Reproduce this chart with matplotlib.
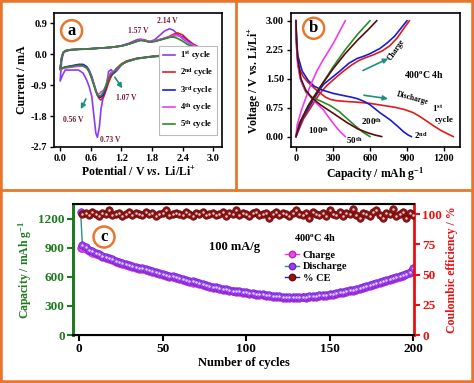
import matplotlib
matplotlib.use("Agg")
import matplotlib.pyplot as plt
from matplotlib.lines import Line2D

plt.rcParams['font.family'] = ['Liberation Serif', 'DejaVu Serif']
plt.rcParams['font.weight'] = 'bold'
plt.rcParams['axes.labelweight'] = 'bold'
plt.rcParams['mathtext.fontset'] = 'custom'
plt.rcParams['mathtext.rm'] = 'Liberation Serif:bold'
plt.rcParams['mathtext.it'] = 'Liberation Serif:italic:bold'
plt.rcParams['mathtext.bf'] = 'Liberation Serif:bold'

# ---------------- panel a: cyclic voltammetry ----------------
v_down = [3.0, 2.7, 2.4, 2.1, 1.8, 1.5, 1.3, 1.2, 1.1, 1.05, 1.0, 0.95, 0.9, 0.85,
          0.8, 0.77, 0.73, 0.7, 0.67, 0.62, 0.57, 0.52, 0.45, 0.36, 0.25, 0.1, 0.05, 0.0]
v_up = [0.0, 0.03, 0.06, 0.1, 0.2, 0.4, 0.6, 0.8, 1.0, 1.2, 1.35, 1.5, 1.57, 1.65,
        1.75, 1.85, 1.95, 2.05, 2.14, 2.22, 2.3, 2.4, 2.5, 2.6, 2.7, 2.8, 2.9, 3.0]

i1_down = [0.05, 0.0, -0.03, -0.05, -0.07, -0.12, -0.2, -0.32, -0.5, -0.55, -0.45, -0.5, -0.95, -1.2,
           -1.6, -2.1, -2.42, -2.3, -1.9, -1.23, -0.95, -0.75, -0.55, -0.46, -0.46, -0.46, -0.6, -0.78]
i2_down = [0.18, 0.1, 0.03, -0.02, -0.06, -0.12, -0.2, -0.28, -0.42, -0.52, -0.65, -0.82, -1.05, -1.25,
           -1.33, -1.3, -1.2, -1.08, -0.92, -0.7, -0.5, -0.38, -0.3, -0.3, -0.34, -0.38, -0.4, -0.45]
i3_down = [0.15, 0.08, 0.02, -0.03, -0.07, -0.13, -0.22, -0.3, -0.45, -0.55, -0.6, -0.7, -0.95, -1.18,
           -1.25, -1.25, -1.18, -1.05, -0.9, -0.65, -0.47, -0.36, -0.3, -0.3, -0.33, -0.37, -0.4, -0.43]
i4_down = [0.2, 0.1, 0.03, -0.02, -0.07, -0.13, -0.22, -0.3, -0.45, -0.5, -0.52, -0.62, -0.9, -1.05,
           -1.1, -1.15, -1.15, -1.05, -0.92, -0.68, -0.5, -0.4, -0.35, -0.35, -0.37, -0.4, -0.42, -0.45]
i5_down = [0.15, 0.08, 0.02, -0.03, -0.07, -0.13, -0.22, -0.3, -0.43, -0.52, -0.58, -0.68, -0.9, -1.1,
           -1.2, -1.22, -1.18, -1.08, -0.95, -0.72, -0.52, -0.4, -0.33, -0.32, -0.35, -0.38, -0.4, -0.42]

i1_up = [-0.78, -0.2, 0.02, 0.08, 0.12, 0.14, 0.16, 0.18, 0.2, 0.25, 0.32, 0.42, 0.44, 0.42,
         0.37, 0.42, 0.55, 0.68, 0.74, 0.7, 0.58, 0.45, 0.35, 0.25, 0.15, 0.1, 0.07, 0.05]
i2_up = [-0.45, -0.1, 0.05, 0.1, 0.13, 0.15, 0.16, 0.18, 0.2, 0.24, 0.3, 0.38, 0.41, 0.4,
         0.36, 0.38, 0.42, 0.47, 0.52, 0.58, 0.62, 0.56, 0.42, 0.3, 0.22, 0.18, 0.17, 0.18]
i3_up = [-0.43, -0.1, 0.05, 0.1, 0.13, 0.15, 0.16, 0.18, 0.2, 0.24, 0.3, 0.38, 0.41, 0.4,
         0.36, 0.38, 0.42, 0.46, 0.5, 0.54, 0.55, 0.5, 0.38, 0.28, 0.2, 0.16, 0.15, 0.15]
i4_up = [-0.45, -0.1, 0.05, 0.1, 0.13, 0.15, 0.16, 0.18, 0.2, 0.24, 0.3, 0.38, 0.42, 0.41,
         0.37, 0.39, 0.43, 0.47, 0.51, 0.55, 0.55, 0.48, 0.36, 0.27, 0.2, 0.18, 0.19, 0.2]
i5_up = [-0.42, -0.1, 0.05, 0.1, 0.13, 0.15, 0.16, 0.18, 0.2, 0.24, 0.3, 0.37, 0.4, 0.39,
         0.35, 0.37, 0.41, 0.45, 0.49, 0.5, 0.46, 0.38, 0.28, 0.22, 0.17, 0.15, 0.15, 0.15]

cv_labels = ['1$^{\\mathrm{st}}$ cycle', '2$^{\\mathrm{nd}}$ cycle', '3$^{\\mathrm{rd}}$ cycle',
             '4$^{\\mathrm{th}}$ cycle', '5$^{\\mathrm{th}}$ cycle']

# ---------------- panel b: charge / discharge profiles ----------------
dis1_cap = [0, 3, 8, 18, 35, 60, 100, 150, 200, 240, 280, 330, 400, 500, 600, 700, 800, 880, 950, 1000, 1060, 1120, 1180, 1230, 1275]
dis1_v = [3.0, 2.6, 2.2, 1.9, 1.7, 1.55, 1.4, 1.25, 1.12, 1.02, 0.96, 0.93, 0.91, 0.89, 0.86, 0.81, 0.76, 0.7, 0.62, 0.53, 0.4, 0.27, 0.15, 0.07, 0.0]
chg1_cap = [0, 60, 130, 190, 250, 320, 380, 450, 510, 570, 630, 700, 760, 820, 870, 920]
chg1_v = [0.0, 0.45, 0.8, 1.1, 1.32, 1.52, 1.68, 1.85, 1.97, 2.05, 2.12, 2.22, 2.35, 2.55, 2.78, 3.0]

dis2_cap = [0, 5, 15, 50, 100, 150, 209, 300, 358, 450, 500, 560, 602, 680, 765, 830, 874, 910, 935]
dis2_v = [3.0, 2.5, 2.1, 1.7, 1.45, 1.3, 1.21, 1.12, 1.08, 1.02, 0.98, 0.9, 0.82, 0.62, 0.43, 0.25, 0.12, 0.04, 0.0]
chg2_cap = [0, 50, 114, 170, 223, 300, 358, 430, 494, 550, 602, 680, 738, 800, 850, 900]
chg2_v = [0.0, 0.45, 0.8, 1.1, 1.35, 1.55, 1.7, 1.9, 2.02, 2.08, 2.15, 2.28, 2.42, 2.6, 2.8, 3.0]

dis50_cap = [0, 5, 15, 40, 80, 130, 200, 280, 350, 420, 480, 540, 600]
dis50_v = [3.0, 2.4, 1.9, 1.45, 1.15, 1.02, 0.92, 0.8, 0.65, 0.45, 0.28, 0.12, 0.0]
chg50_cap = [0, 30, 100, 200, 300, 400, 500, 600]
chg50_v = [0.0, 0.35, 0.8, 1.3, 1.8, 2.25, 2.65, 3.0]

dis100_cap = [0, 5, 15, 35, 60, 90, 130, 180, 223, 270, 320, 360, 400]
dis100_v = [3.0, 2.3, 1.85, 1.5, 1.3, 1.15, 0.98, 0.82, 0.69, 0.48, 0.27, 0.12, 0.0]
chg100_cap = [0, 10, 46, 114, 170, 223, 304, 350, 400]
chg100_v = [0.0, 0.3, 0.7, 1.3, 1.7, 2.0, 2.42, 2.7, 3.0]

dis200_cap = [0, 5, 15, 40, 80, 130, 200, 280, 350, 420, 500, 580, 640, 695]
dis200_v = [3.0, 2.5, 2.0, 1.5, 1.2, 1.0, 0.82, 0.65, 0.5, 0.35, 0.2, 0.1, 0.04, 0.0]
chg200_cap = [0, 30, 100, 200, 300, 400, 500, 580, 655]
chg200_v = [0.0, 0.35, 0.8, 1.3, 1.75, 2.15, 2.5, 2.75, 3.0]

# ---------------- panel c: cycling ----------------
cycles = [1] + list(range(2, 201, 2))
discharge = [1270,
             930, 906, 884, 866, 850, 836, 822, 808, 795, 783, 770, 758, 745, 736, 726, 717, 708, 698, 689, 680,
             670, 661, 652, 642, 632, 624, 615, 606, 598, 590, 581, 572, 563, 554, 545, 536, 527, 518, 509, 500,
             494, 487, 480, 473, 466, 460, 455, 450, 446, 441, 436, 432, 428, 424, 420, 416, 412, 408, 404, 400,
             396, 392, 394, 390, 392, 395, 398, 396, 400, 404, 406, 410, 412, 416, 420, 426, 432, 440, 446, 454,
             462, 470, 478, 488, 496, 506, 516, 526, 536, 546, 556, 564, 576, 586, 598, 610, 622, 636, 652, 690]
charge = [905,
          900, 888, 870, 853, 838, 824, 810, 797, 784, 772, 759, 747, 735, 725, 715, 706, 697, 687, 678, 669,
          659, 650, 641, 631, 621, 613, 604, 595, 587, 579, 570, 561, 552, 543, 534, 525, 516, 507, 498, 489,
          483, 476, 469, 462, 455, 450, 445, 440, 436, 431, 426, 422, 418, 414, 410, 406, 402, 398, 394, 390,
          386, 382, 384, 380, 382, 385, 388, 386, 390, 394, 396, 400, 402, 406, 410, 416, 422, 430, 436, 444,
          452, 460, 468, 478, 486, 496, 506, 516, 526, 536, 546, 554, 566, 576, 588, 600, 612, 626, 642, 676]
ce_cycles = cycles[1:]
ce = [100, 101, 99, 102, 100, 98, 101, 100, 103, 99,
      100, 101, 98, 100, 102, 99, 101, 100, 99, 102,
      100, 101, 98, 100, 101, 103, 99, 100, 101, 100,
      99, 102, 100, 98, 101, 100, 102, 99, 100, 101,
      99, 100, 102, 98, 101, 100, 103, 99, 101, 100,
      98, 101, 102, 99, 100, 101, 97, 100, 102, 99,
      101, 100, 98, 101, 103, 100, 99, 101, 97, 102,
      100, 99, 101, 98, 103, 100, 99, 102, 98, 101,
      100, 104, 99, 97, 101, 100, 98, 102, 103, 99,
      97, 101, 100, 104, 98, 100, 102, 97, 101, 99]

orange = '#e8772e'
teal = '#1f8f80'
label_red = '#7a1f35'
purple = '#8a3cf0'
red = '#e01b1b'
blue = '#1c1cd0'
magenta = '#f03cf0'
green = '#2b8a2b'
brown = '#5a0c0c'
cgreen = '#1f7a1f'
cred = '#e81010'

fig = plt.figure(figsize=(4.74, 3.83), dpi=100)
W, H = 474.0, 383.0

# ---- panel a ----
axa = fig.add_axes([54 / W, 1 - 147 / H, 168 / W, 134 / H])
cv_down = [i1_down, i2_down, i3_down, i4_down, i5_down]
cv_up = [i1_up, i2_up, i3_up, i4_up, i5_up]
cv_colors = [purple, red, blue, magenta, green]
for dn, up, col, lab in zip(cv_down, cv_up, cv_colors, cv_labels):
    axa.plot(v_down + v_up, dn + up, color=col, lw=1.2, label=lab)
axa.set_xlim(-0.12, 3.17)
axa.set_ylim(-2.7, 1.2)
axa.set_xticks([0.0, 0.6, 1.2, 1.8, 2.4, 3.0])
axa.set_yticks([0.9, 0.0, -0.9, -1.8, -2.7])
axa.xaxis.set_major_formatter(matplotlib.ticker.FormatStrFormatter('%.1f'))
axa.yaxis.set_major_formatter(matplotlib.ticker.FormatStrFormatter('%.1f'))
axa.tick_params(direction='out', length=3, width=1, labelsize=7.5, pad=2)
for s in axa.spines.values():
    s.set_linewidth(1.2)
axa.set_xlabel('Potential / V $\\mathit{vs.}$ Li/Li$^{+}$', fontsize=8.5, labelpad=2)
axa.set_ylabel('Current / mA', fontsize=8.5, labelpad=2)
leg = axa.legend(loc='lower left', bbox_to_anchor=(0.6, 0.06), fontsize=6.2, handlelength=1.5,
                 labelspacing=0.5, borderpad=0.4, handletextpad=0.5, fancybox=False,
                 edgecolor='#bbbbbb', framealpha=1)
leg.get_frame().set_linewidth(0.8)
axa.text(0.105, 0.868, 'a', transform=axa.transAxes, fontsize=12, ha='center', va='center',
         bbox=dict(boxstyle='circle,pad=0.15', fc='white', ec=orange, lw=1.8))
for txt, x, y in [('2.14 V', 2.09, 0.98), ('1.57 V', 1.53, 0.69), ('1.07 V', 1.3, -1.28),
                  ('0.56 V', 0.26, -1.91), ('0.73 V', 0.98, -2.49)]:
    axa.text(x, y, txt, fontsize=5.5, color=label_red, ha='center', va='center')
axa.annotate('', xy=(1.25, -1.06), xytext=(1.04, -0.6),
             arrowprops=dict(arrowstyle='-|>', color=teal, lw=1.2, mutation_scale=7))
axa.annotate('', xy=(0.38, -1.67), xytext=(0.53, -1.23),
             arrowprops=dict(arrowstyle='-|>', color=teal, lw=1.2, mutation_scale=7))

# ---- panel b ----
axb = fig.add_axes([291 / W, 1 - 147 / H, 169 / W, 134 / H])
b_curves = [(dis1_cap, dis1_v, chg1_cap, chg1_v, red),
            (dis2_cap, dis2_v, chg2_cap, chg2_v, blue),
            (dis50_cap, dis50_v, chg50_cap, chg50_v, green),
            (dis100_cap, dis100_v, chg100_cap, chg100_v, magenta),
            (dis200_cap, dis200_v, chg200_cap, chg200_v, brown)]
for dc, dv, cc, cv, col in b_curves:
    axb.plot(dc, dv, color=col, lw=1.2)
    axb.plot(cc, cv, color=col, lw=1.2)
axb.set_xlim(-40, 1330)
axb.set_ylim(-0.27, 3.2)
axb.set_xticks([0, 300, 600, 900, 1200])
axb.set_yticks([0.0, 0.75, 1.5, 2.25, 3.0])
axb.yaxis.set_major_formatter(matplotlib.ticker.FormatStrFormatter('%.2f'))
axb.tick_params(direction='out', length=3, width=1, labelsize=7.5, pad=2)
for s in axb.spines.values():
    s.set_linewidth(1.2)
axb.set_xlabel('Capacity / mAh g$^{-1}$', fontsize=8.5, labelpad=2)
axb.set_ylabel('Voltage / V vs. Li/Li$^{+}$', fontsize=8.5, labelpad=2)
axb.text(0.134, 0.886, 'b', transform=axb.transAxes, fontsize=12, ha='center', va='center',
         bbox=dict(boxstyle='circle,pad=0.15', fc='white', ec=orange, lw=1.8))
axb.text(180, 0.17, '100$^{\\mathrm{th}}$', fontsize=6.5, ha='center', va='center')
axb.text(470, -0.1, '50$^{\\mathrm{th}}$', fontsize=6.5, ha='center', va='center')
axb.text(610, 0.4, '200$^{\\mathrm{th}}$', fontsize=6.5, ha='center', va='center')
axb.text(1010, 0.04, '2$^{\\mathrm{nd}}$', fontsize=6.5, ha='center', va='center')
axb.text(1150, 0.72, '1$^{\\mathrm{st}}$', fontsize=6.5, ha='center', va='center')
axb.text(1200, 0.42, 'cycle', fontsize=6.5, ha='center', va='center')
axb.text(1040, 1.6, '400$^{\\mathrm{o}}$C 4h', fontsize=7, ha='center', va='center')
axb.text(810, 2.25, 'Charge', fontsize=5.5, ha='center', va='center', rotation=55)
axb.text(945, 0.98, 'Discharge', fontsize=5.5, ha='center', va='center', rotation=-15)
axb.annotate('', xy=(768, 2.05), xytext=(523, 1.68),
             arrowprops=dict(arrowstyle='-|>', color=teal, lw=1.2, mutation_scale=7))
axb.annotate('', xy=(768, 0.97), xytext=(529, 1.08),
             arrowprops=dict(arrowstyle='-|>', color=teal, lw=1.2, mutation_scale=7))

# ---- panel c ----
axc = fig.add_axes([73 / W, 1 - 335 / H, 341 / W, 131 / H])
axc2 = axc.twinx()
ms = 5.4
axc2.plot(ce_cycles, ce, '-', color='#2020c0', lw=0.8, zorder=2)
axc2.plot(ce_cycles, ce, 'o', ms=ms, mfc='#8e1515', mec='#6a0a0a', mew=0.5, zorder=3)
axc2.plot(ce_cycles, ce, 'o', ms=1.8, mfc='#f0c8c8', mec='none', zorder=4)
axc.plot(cycles, charge, '-', color='#ff2fd0', lw=0.9, zorder=2)
axc.plot(cycles, charge, 'o', ms=ms, mfc='#e64ce6', mec='#c020c0', mew=0.5, zorder=3)
axc.plot(cycles, discharge, '-', color='#2e8b8b', lw=1.0, zorder=4)
axc.plot(cycles, discharge, 'o', ms=ms, mfc='#9a40f5', mec='#7020d0', mew=0.5, zorder=5)
axc.plot(cycles, discharge, 'o', ms=1.8, mfc='#e6d0ff', mec='none', zorder=6)
axc.set_xlim(-3.6, 200.6)
axc.set_ylim(0, 1355)
axc2.set_ylim(0, 108.3)
axc.set_xticks([0, 50, 100, 150, 200])
axc.set_yticks([0, 300, 600, 900, 1200])
axc2.set_yticks([0, 25, 50, 75, 100])
axc.tick_params(axis='x', direction='out', length=4, width=1.5, labelsize=9.5, pad=2)
axc.tick_params(axis='y', direction='out', length=4, width=1.5, labelsize=9.5, pad=2,
                colors=cgreen)
axc2.tick_params(axis='y', direction='out', length=4, width=1.5, labelsize=9.5, pad=2,
                 colors=cred)
for s in ['top', 'bottom']:
    axc2.spines[s].set_linewidth(1.5)
axc2.spines['left'].set_color(cgreen)
axc2.spines['left'].set_linewidth(2)
axc2.spines['right'].set_color(cred)
axc2.spines['right'].set_linewidth(2)
axc.spines['left'].set_color(cgreen)
axc.spines['left'].set_linewidth(2)
axc.spines['right'].set_visible(False)
axc.set_xlabel('Number of cycles', fontsize=9, labelpad=1)
axc.set_ylabel('Capacity / mAh g$^{-1}$', fontsize=8.5, color=cgreen, labelpad=3)
axc2.set_ylabel('Coulombic efficiency / %', fontsize=8.5, color=cred, labelpad=3)
axc.text(0.091, 0.748, 'c', transform=axc.transAxes, fontsize=12, ha='center', va='center',
         bbox=dict(boxstyle='circle,pad=0.15', fc='white', ec=orange, lw=1.8))
axc.text(0.475, 0.672, '100 mA/g', transform=axc.transAxes, fontsize=9, ha='center', va='center')
axc.text(0.71, 0.748, '400$^{\\mathrm{o}}$C 4h', transform=axc.transAxes, fontsize=7.5,
         ha='center', va='center')
handles = [Line2D([], [], color='#ff2fd0', lw=1, marker='o', ms=4.6, mfc='#e64ce6', mec='#c020c0'),
           Line2D([], [], color='#2e8b8b', lw=1, marker='o', ms=4.6, mfc='#9a40f5', mec='#7020d0'),
           Line2D([], [], color='#2020c0', lw=1, marker='o', ms=4.6, mfc='#8e1515', mec='#6a0a0a')]
axc.legend(handles, ['Charge', 'Discharge', '% CE'], loc='upper left', bbox_to_anchor=(0.6, 0.7),
           frameon=False, fontsize=7.5, handlelength=1.4, labelspacing=0.2, handletextpad=0.3,
           borderpad=0.2)

# ---- orange frame ----
fig.add_artist(Line2D([0, 1, 1, 0, 0], [0, 0, 1, 1, 0], transform=fig.transFigure, color=orange, lw=4))
fig.add_artist(Line2D([236 / W, 236 / W], [1 - 190 / H, 1], transform=fig.transFigure, color=orange, lw=2))
fig.add_artist(Line2D([0, 1], [1 - 190 / H, 1 - 190 / H], transform=fig.transFigure, color=orange, lw=2))

fig.savefig('out.png', dpi=100)
